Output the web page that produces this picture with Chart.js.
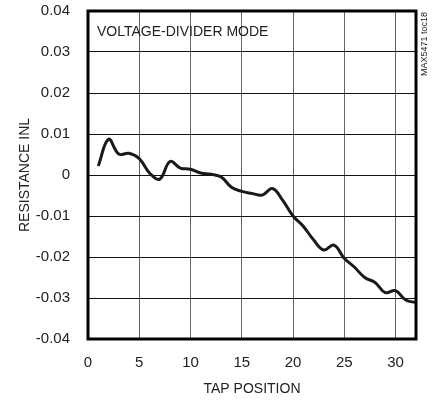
<!DOCTYPE html>
<html>
<head>
<meta charset="utf-8">
<script src="https://cdn.jsdelivr.net/npm/chart.js@4.4.1/dist/chart.umd.min.js"></script>
<style>
  html, body { margin: 0; padding: 0; background: #fff; }
  #wrap { width: 433px; height: 400px; }
</style>
</head>
<body>
<div id="wrap"><canvas id="inlChart"></canvas></div>
<script>
// --- data ---
const tapPositions = [1, 2, 3, 4, 5, 6, 7, 8, 9, 10, 11, 12, 13, 14, 15, 16,
                      17, 18, 19, 20, 21, 22, 23, 24, 25, 26, 27, 28, 29, 30, 31, 32];
const inlValues = [0.0022, 0.0087, 0.0051, 0.0053, 0.0040, 0.0005, -0.0010, 0.0033,
                   0.0017, 0.0014, 0.0005, 0.0002, -0.0005, -0.0030, -0.0040, -0.0045,
                   -0.0049, -0.0033, -0.0062, -0.0100, -0.0125, -0.0158, -0.0183, -0.0171,
                   -0.0203, -0.0225, -0.0250, -0.0262, -0.0287, -0.0282, -0.0305, -0.0311];
const xTicks = [0, 5, 10, 15, 20, 25, 30];
const yTicks = [-0.04, -0.03, -0.02, -0.01, 0, 0.01, 0.02, 0.03, 0.04];

const FONT = "'Liberation Sans', Arial, sans-serif";

// frame + notes drawn on top of the plot
const framePlugin = {
    id: 'frame',
    afterDraw(chart) {
        const { ctx, chartArea: a } = chart;
        ctx.save();
        ctx.strokeStyle = '#000';
        ctx.lineWidth = 3;
        ctx.strokeRect(a.left, a.top, a.right - a.left, a.bottom - a.top);

        ctx.fillStyle = '#222';
        ctx.font = '14px ' + FONT;
        ctx.textAlign = 'left';
        ctx.textBaseline = 'middle';
        ctx.fillText('VOLTAGE-DIVIDER MODE', a.left + 9, a.top + 21);

        ctx.translate(425, a.top + 1);
        ctx.rotate(-Math.PI / 2);
        ctx.font = '9px ' + FONT;
        ctx.textAlign = 'right';
        ctx.fillText('MAX5471 toc18', 0, 0);
        ctx.restore();
    }
};

new Chart(document.getElementById('inlChart').getContext('2d'), {
    type: 'line',
    data: {
        datasets: [{
            data: tapPositions.map((x, i) => ({ x: x, y: inlValues[i] })),
            borderColor: '#1a1a1a',
            borderWidth: 3,
            tension: 0.4,
            pointRadius: 0,
            fill: false
        }]
    },
    options: {
        responsive: true, maintainAspectRatio: false,
        animation: false,
        layout: { padding: { left: 0, right: 17, top: 11, bottom: 0 } },
        plugins: { legend: { display: false }, tooltip: { enabled: false } },
        scales: {
            x: {
                type: 'linear', min: 0, max: 32,
                afterBuildTicks: (scale) => { scale.ticks = xTicks.map(v => ({ value: v })); },
                afterFit: (scale) => { scale.height = 61; scale.paddingLeft = 0; scale.paddingRight = 0; },
                grid: { color: '#666', lineWidth: 1, drawTicks: false },
                border: { display: false },
                ticks: { color: '#222', padding: 15, maxRotation: 0, font: { family: FONT, size: 15 } },
                title: { display: true, text: 'TAP POSITION', color: '#222', padding: { top: 0, bottom: 2 },
                         font: { family: FONT, size: 14 } }
            },
            y: {
                min: -0.04, max: 0.04,
                afterBuildTicks: (scale) => { scale.ticks = yTicks.map(v => ({ value: v })); },
                afterFit: (scale) => { scale.width = 88; scale.paddingTop = 0; scale.paddingBottom = 0; },
                grid: { color: '#111', lineWidth: 1, drawTicks: false },
                border: { display: false },
                ticks: { color: '#222', padding: 18, font: { family: FONT, size: 15 },
                         callback: (v) => v === 0 ? '0' : v.toFixed(2) },
                title: { display: true, text: 'RESISTANCE INL', color: '#222', padding: { top: 17, bottom: 0 },
                         font: { family: FONT, size: 14 } }
            }
        }
    },
    plugins: [framePlugin]
});
</script>
</body>
</html>
